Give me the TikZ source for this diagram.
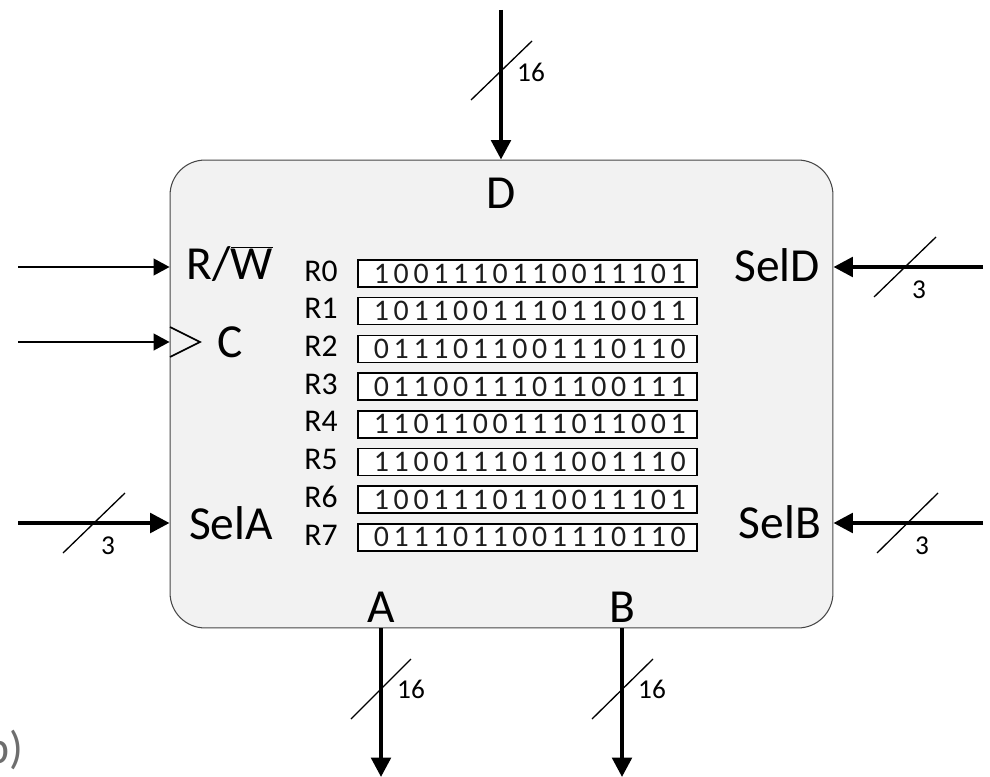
\documentclass[tikz,border=0pt]{standalone}
\usepackage{fontspec}
\setmainfont{Carlito}
\newfontfamily\bitfont[LetterSpace=15.5]{Carlito}
\usepackage{tikz}
\usetikzlibrary{arrows.meta,positioning}
\definecolor{rffill}{RGB}{242,242,242}
\definecolor{rfedge}{RGB}{70,70,70}
\definecolor{taggray}{RGB}{110,110,110}
\definecolor{bitink}{RGB}{30,30,30}
\tikzstyle{bus} = [line width=2.3pt,-{Triangle[length=11pt,width=11pt]}]
\tikzstyle{wire} = [line width=0.9pt,-{Triangle[length=9pt,width=9.5pt]}]
\tikzstyle{slash} = [line width=0.75pt]
\tikzstyle{buswidth} = [inner sep=0pt, font=\fontsize{15.5}{15.5}\selectfont]
\tikzstyle{port} = [inner sep=0pt, font=\fontsize{27}{27}\selectfont]
\tikzstyle{regname} = [inner sep=0pt, anchor=west, font=\fontsize{18}{18}\selectfont]
\tikzstyle{regbox} = [rectangle, draw, line width=0.9pt, fill=white, text=bitink, minimum width=6.78cm, minimum height=0.54cm, inner sep=0pt, font=\bitfont\fontsize{17}{17}\selectfont]

\begin{document}
\begin{tikzpicture}[x=0.02cm,y=-0.02cm]
\useasboundingbox (0,0) rectangle (990,777);

% Register file body
\node[rectangle, rounded corners=0.7cm, draw=rfedge, line width=0.6pt, fill=rffill,
      minimum width=13.26cm, minimum height=9.36cm] (rf) at (501.5,394) {};

% Registers R0..R7
\foreach \v [count=\i from 0] in {1001110110011101,1011001110110011,0111011001110110,0110011101100111,
                                  1101100111011001,1100111011001110,1001110110011101,0111011001110110}{
  \node[regbox] (reg\i) at (527.5,{273.5+37.7*\i}) {\kern2.6pt\v};
  \node[regname] (rn\i) at (304,{271+37.7*\i}) {R\i};
}

% Port labels
\node[port] (dlbl) at (501,193) {D};
\node[port] (rwlbl) at (230,264) {R/$\overline{\hbox{W}}$};
\node[port] (clbl) at (230,342) {C};
\node[port] (salbl) at (231,523) {SelA};
\node[port] (sdlbl) at (777,265) {SelD};
\node[port] (sblbl) at (780,522) {SelB};
\node[port] (albl) at (381,607) {A};
\node[port] (blbl) at (622,607) {B};

% Free ends of the connectors
\coordinate (din) at (501,10);
\coordinate (rwin) at (18,267);
\coordinate (clkin) at (18,342);
\coordinate (sain) at (18,523);
\coordinate (sdin) at (983,267);
\coordinate (sbin) at (983,523);
\coordinate (aout) at (381,777);
\coordinate (bout) at (622,777);

% Data bus in
\draw[bus] (din) -- (din |- rf.north);
\draw[slash] (471,100) -- (532,41);
\node[buswidth] (dw) at (531,72) {16};

% Control inputs
\draw[wire] (rwin) -- (rwin -| rf.west);
\draw[wire] (clkin) -- (clkin -| rf.west);
\draw[line width=0.9pt] (170,327) -- (200,342) -- (170,357);

% Select inputs
\draw[bus] (sain) -- (sain -| rf.west);
\draw[slash] (63,553) -- (125,493);
\node[buswidth] (saw) at (108,546) {3};

\draw[bus] (sdin) -- (sdin -| rf.east);
\draw[slash] (874,297) -- (936,237);
\node[buswidth] (sdw) at (919,290) {3};

\draw[bus] (sbin) -- (sbin -| rf.east);
\draw[slash] (877,553) -- (938,493);
\node[buswidth] (sbw) at (922,546) {3};

% Output buses
\draw[bus] (aout |- rf.south) -- (aout);
\draw[slash] (351,719) -- (411,659);
\node[buswidth] (aw) at (411,689) {16};

\draw[bus] (bout |- rf.south) -- (bout);
\draw[slash] (592,719) -- (653,659);
\node[buswidth] (bw) at (652,689) {16};

% Subfigure tag
\node[anchor=base east, inner sep=0pt, text=taggray, font=\fontsize{26}{26}\selectfont] (tag) at (24,763) {b)};
\end{tikzpicture}
\end{document}
